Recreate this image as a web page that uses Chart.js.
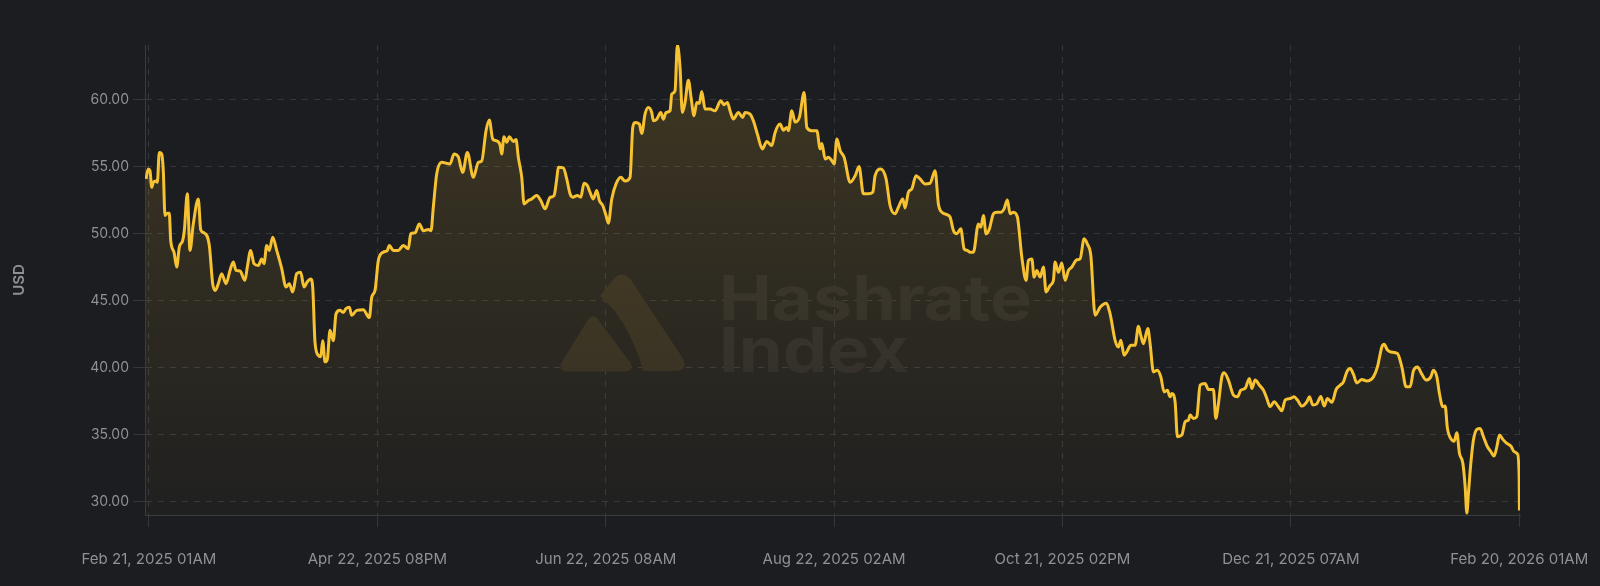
<!DOCTYPE html>
<html><head><meta charset="utf-8">
<script src="https://cdn.jsdelivr.net/npm/chart.js@4.4.1/dist/chart.umd.min.js"></script>
<style>html,body{margin:0;padding:0;background:#1c1d20;}canvas{display:block;}</style>
</head><body>
<canvas id="c" width="1600" height="586"></canvas>
<script>
// ---- data ----
const xTickLabels = ["Feb 21, 2025 01AM","Apr 22, 2025 08PM","Jun 22, 2025 08AM","Aug 22, 2025 02AM","Oct 21, 2025 02PM","Dec 21, 2025 07AM","Feb 20, 2026 01AM"];
const yTickValues = [30,35,40,45,50,55,60];
const axisTitle = "USD";
// days since Feb 21, 2025 01AM
const dayOffsets = [
-0.80,-0.19,0.27,0.72,1.14,1.86,2.21,2.74,3.37,3.80,
4.25,4.86,5.39,5.77,6.64,7.36,8.05,8.95,9.38,10.18,
10.89,11.77,13.10,13.74,14.61,16.02,16.92,17.61,18.41,19.31,
20.46,21.52,22.40,23.11,24.18,25.50,26.12,27.02,27.90,29.04,
29.94,30.55,31.27,31.96,32.86,33.93,35.26,36.40,37.27,38.18,
39.24,40.30,41.18,42.06,42.96,43.49,44.10,44.98,45.62,46.15,
46.76,47.37,48.09,48.96,49.68,50.74,51.62,52.34,53.22,53.85,
55.18,56.93,58.53,59.17,60.04,60.92,62.25,63.31,63.84,64.90,
66.23,67.56,68.89,69.53,70.67,71.81,72.88,74.20,74.92,75.53,
76.44,77.76,79.97,81.03,82.17,83.34,84.56,86.16,87.49,88.39,
89.53,90.41,91.31,92.38,93.25,93.70,94.31,95.03,95.72,96.79,
97.50,98.11,99.02,99.63,100.77,101.67,103.00,104.07,105.21,106.54,
107.60,108.32,108.74,110.07,110.97,111.85,112.57,113.79,114.70,115.57,
116.45,117.16,118.04,118.94,119.63,120.54,121.41,122.03,122.93,124.07,
125.32,126.46,127.79,128.51,129.12,130.26,130.90,131.77,132.65,133.55,
133.98,134.88,135.95,136.64,137.35,138.42,138.87,139.74,140.36,141.07,
141.68,142.40,143.28,144.00,144.79,145.51,146.20,146.84,147.71,149.04,
150.37,151.89,152.76,153.64,154.36,155.24,156.57,157.73,158.34,159.67,
160.55,161.61,162.94,164.11,165.44,166.33,167.64,168.53,169.43,169.86,
170.76,171.64,172.78,174.03,174.75,176.08,177.41,178.28,178.74,179.62,
180.50,181.40,182.01,182.73,183.61,184.67,186.26,187.59,188.63,189.77,
191.10,192.27,192.88,194.39,195.80,196.86,198.19,199.07,200.24,200.85,
201.73,202.63,203.77,204.84,206.16,207.49,208.82,209.70,210.60,211.93,
212.81,213.69,214.59,215.65,216.53,217.41,218.12,219.00,220.33,220.97,
221.66,222.37,223.25,224.31,225.22,226.28,227.15,228.03,228.75,229.63,
230.69,231.86,233.00,233.61,234.52,235.12,235.84,236.72,237.60,238.31,
239.37,240.25,240.70,241.58,242.48,243.36,244.24,245.14,246.47,247.34,
248.41,249.28,250.19,251.33,252.66,254.25,255.31,256.64,257.52,258.16,
259.04,259.75,260.81,261.95,262.84,263.47,264.16,265.33,265.94,266.82,
267.88,268.79,269.66,270.54,271.25,271.70,272.58,273.19,274.36,275.24,
276.11,276.57,277.44,278.35,279.22,280.55,281.43,282.76,283.39,284.09,
284.99,285.60,286.74,288.07,289.13,290.04,291.18,292.32,292.96,293.84,
294.98,296.05,296.95,297.82,298.89,300.03,300.93,301.81,303.14,304.20,
305.08,306.24,307.57,308.26,309.17,310.23,311.29,312.17,313.05,314.22,
315.36,316.42,317.30,318.20,319.08,319.95,320.85,322.18,323.51,325.27,
326.33,327.50,328.11,328.99,329.89,331.64,332.81,333.95,335.01,335.89,
336.95,338.12,339.26,340.51,341.20,342.11,342.80,343.70,344.31,344.92,
346.09,346.70,347.42,348.11,349.02,349.63,350.08,350.50,351.14,351.83,
352.74,353.61,354.49,355.55,356.46,357.33,358.05,358.74,359.64,360.70,
361.77,362.65,363.52,363.97,364.05
];
const priceUsd = [
54.06,54.80,54.68,53.44,53.80,53.90,53.81,56.04,55.92,54.68,
51.33,51.50,51.50,49.47,48.60,47.49,48.97,49.47,50.20,52.95,
48.73,50.70,52.57,50.27,50.04,49.10,46.25,45.75,46.25,47.00,
46.25,47.24,47.86,47.24,47.20,46.50,47.50,48.73,47.74,47.60,
48.10,47.74,49.10,48.73,49.72,48.73,47.37,46.00,46.25,45.63,
47.00,47.10,46.00,46.40,46.60,46.00,41.90,40.90,40.80,42.00,
40.42,40.60,42.78,42.00,44.00,44.26,44.10,44.40,44.50,43.90,
44.26,44.30,43.72,45.25,45.75,47.98,48.60,48.73,49.10,48.73,
48.73,49.10,48.85,49.97,50.04,50.70,50.20,50.30,50.20,51.95,
54.44,55.30,55.18,55.92,55.70,54.55,56.04,54.18,55.30,55.40,
57.66,58.45,57.04,56.90,56.60,55.92,57.21,56.80,57.21,56.85,
57.00,55.67,54.18,52.20,52.45,52.57,52.82,52.45,51.83,52.69,
52.82,54.06,54.93,54.88,54.06,52.95,52.70,52.82,52.70,53.74,
53.57,53.07,52.57,53.20,52.45,52.08,51.33,50.76,52.57,53.69,
54.18,53.90,54.18,57.90,58.27,58.15,57.45,58.90,59.39,59.02,
58.40,58.52,59.02,58.52,59.02,59.14,60.39,60.64,64.05,62.36,
59.02,59.77,61.43,60.13,58.77,59.76,59.70,60.58,59.27,59.27,
59.14,59.89,59.60,59.77,59.14,58.53,59.02,58.65,59.02,58.90,
58.40,57.41,56.30,56.86,56.55,57.53,58.15,57.70,57.90,57.66,
59.14,58.30,58.65,60.50,57.90,57.66,57.66,56.30,56.70,55.55,
55.67,55.42,55.18,57.04,56.17,55.67,53.81,54.30,54.98,52.95,
52.95,53.07,54.30,54.80,54.06,52.08,51.46,51.95,52.57,51.90,
53.07,53.32,54.30,54.06,53.69,53.74,54.68,52.20,51.58,51.40,
51.21,50.22,49.97,50.34,48.85,48.73,48.60,48.60,50.71,50.46,
51.33,49.97,50.34,51.46,51.58,51.58,51.83,52.50,51.46,51.58,
51.21,48.23,46.50,47.98,48.10,46.74,47.24,46.74,47.49,45.63,
46.12,46.50,47.86,47.10,47.80,46.50,47.24,47.49,48.03,48.10,
49.60,49.20,48.35,43.90,44.50,44.80,44.00,42.03,41.53,42.03,
40.92,41.16,41.66,41.66,43.07,42.40,41.78,42.90,41.78,39.67,
39.80,39.30,38.18,38.30,37.81,38.06,37.44,34.84,34.96,35.95,
36.08,36.45,36.20,36.33,38.68,38.80,38.35,38.35,36.20,37.32,
39.30,39.60,39.06,37.94,37.81,38.31,38.44,39.18,38.44,39.06,
38.68,38.31,37.69,37.07,37.44,37.07,36.77,37.57,37.69,37.81,
37.57,37.12,37.44,37.81,37.20,37.30,37.84,37.12,37.69,37.40,
38.36,38.68,38.93,39.67,39.92,39.50,38.85,39.10,39.00,39.30,
40.04,41.53,41.73,41.30,41.16,41.04,40.04,38.56,38.56,39.75,
40.04,39.50,39.06,39.30,39.80,39.30,38.06,37.07,37.12,35.46,
34.59,34.50,35.14,33.60,32.86,31.12,29.14,30.60,32.86,34.59,
35.39,35.46,34.84,34.09,33.72,33.40,34.09,34.96,34.64,34.34,
34.14,33.72,33.55,31.86,29.33
];
const totalDays = 364;

// ---- chart ----
const points = dayOffsets.map((d, i) => ({x: d, y: priceUsd[i]}));
const FONT = "Inter, 'Noto Sans', sans-serif";
const gridColor = '#35363a';
const tickText = '#8f9196';
const logoColor = '#2e2a23';

const watermark = {
  id: 'watermark',
  beforeDatasetsDraw(chart) {
    const ctx = chart.ctx;
    ctx.save();
    ctx.fillStyle = logoColor;
    // large shape (right part of logo)
    ctx.beginPath();
    ctx.moveTo(600, 296);
    ctx.lineTo(613, 280);
    ctx.quadraticCurveTo(622, 269, 631, 280);
    ctx.lineTo(682, 357);
    ctx.quadraticCurveTo(690, 371, 674, 371);
    ctx.lineTo(643, 371);
    ctx.quadraticCurveTo(641, 362, 637, 352);
    ctx.quadraticCurveTo(625, 322, 611, 307);
    ctx.closePath();
    ctx.fill();
    // small rounded triangle (left part)
    ctx.strokeStyle = logoColor;
    ctx.lineJoin = 'round';
    ctx.lineWidth = 11;
    ctx.beginPath();
    ctx.moveTo(593, 322); ctx.lineTo(626, 366); ctx.lineTo(566, 366); ctx.closePath();
    ctx.fill(); ctx.stroke();
    // text
    ctx.fillStyle = '#28282a';
    ctx.font = "bold 62px Inter, 'Noto Sans', sans-serif";
    ctx.textBaseline = 'alphabetic';
    const w = ctx.measureText('Hashrate').width;
    ctx.translate(719, 0);
    ctx.scale(313 / w, 1);
    ctx.fillText('Hashrate', 0, 320);
    ctx.fillText('Index', 0, 372);
    ctx.restore();
  }
};

new Chart(document.getElementById('c'), {
  type: 'line',
  data: {
    datasets: [{
      data: points,
      borderColor: '#f6c232',
      borderWidth: 3,
      pointRadius: 0,
      pointHoverRadius: 0,
      cubicInterpolationMode: 'monotone',
      fill: 'start',
      backgroundColor: (c) => {
        const area = c.chart.chartArea;
        if (!area) return 'rgba(246,194,50,0.08)';
        const g = c.chart.ctx.createLinearGradient(0, area.top, 0, area.bottom);
        g.addColorStop(0, 'rgba(246,194,50,0.16)');
        g.addColorStop(1, 'rgba(246,194,50,0.02)');
        return g;
      }
    }]
  },
  options: {
    responsive: false,
    animation: false,
    events: [],
    layout: {padding: {top: 45, right: 80, bottom: 0, left: 0}},
    plugins: {legend: {display: false}, tooltip: {enabled: false}},
    scales: {
      x: {
        type: 'linear',
        min: -1.06,
        max: 364.2,
        afterBuildTicks: (s) => { s.ticks = xTickLabels.map((_, i) => ({value: i * totalDays / 6})); },
        afterFit: (s) => { s.height = 71; s.paddingLeft = 0; s.paddingRight = 0; },
        ticks: {
          autoSkip: false, maxRotation: 0, color: tickText, padding: 23,
          font: {family: FONT, size: 15},
          callback: (v, i) => xTickLabels[i]
        },
        grid: {color: gridColor, tickColor: gridColor, tickLength: 12, drawTicks: true},
        border: {display: true, color: '#3a3b3f', width: 1, dash: [6, 6]}
      },
      y: {
        min: 29,
        max: 64.05,
        afterBuildTicks: (s) => { s.ticks = yTickValues.map(v => ({value: v})); },
        afterFit: (s) => { s.width = 145; s.paddingTop = 0; s.paddingBottom = 0; },
        ticks: {
          color: tickText, padding: 4,
          font: {family: FONT, size: 14},
          callback: (v) => Number(v).toFixed(2)
        },
        grid: {color: gridColor, tickColor: gridColor, tickLength: 12},
        border: {display: true, color: '#3a3b3f', width: 1, dash: [6, 6]},
        title: {display: true, text: axisTitle, color: '#8f9196', padding: {top: 10, bottom: 0},
          font: {family: FONT, size: 15, weight: '600'}}
      }
    }
  },
  plugins: [watermark]
});
</script>
</body></html>
